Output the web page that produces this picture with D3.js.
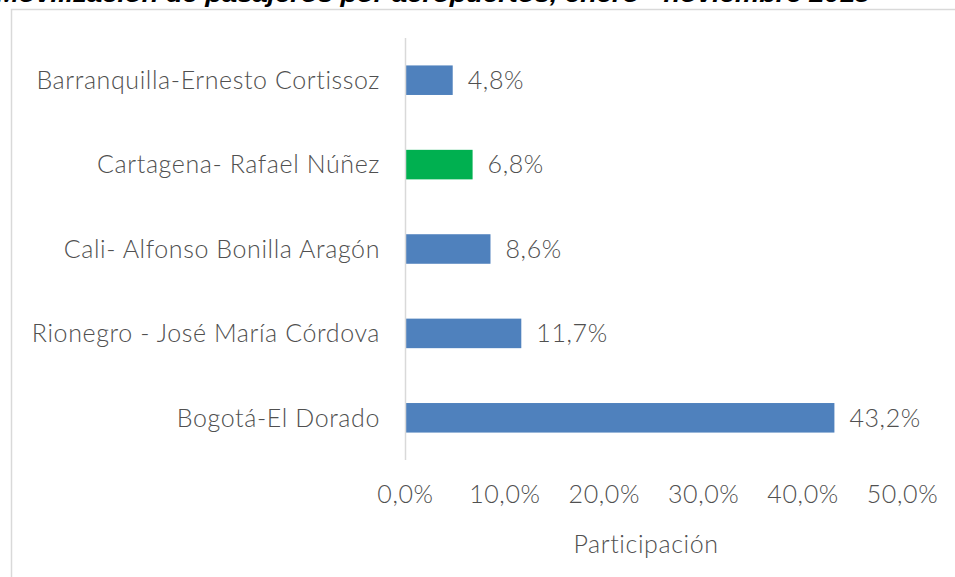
<!DOCTYPE html>
<html>
<head>
<meta charset="utf-8">
<script src="https://cdn.jsdelivr.net/npm/d3@7"></script>
<style>
  body { margin: 0; background: #fff; }
  #chart_div { width: 955px; height: 577px; overflow: hidden; }
</style>
</head>
<body>
<div id="chart_div"></div>
<script>
let title = "Movilización de pasajeros por aeropuertos, enero - noviembre 2015"
let airports = ["Barranquilla-Ernesto Cortissoz", "Cartagena- Rafael Núñez", "Cali- Alfonso Bonilla Aragón", "Rionegro - José María Córdova", "Bogotá-El Dorado"]
let shares = [4.8, 6.8, 8.6, 11.7, 43.2]
let highlight = "Cartagena- Rafael Núñez"
let x_ticks = [0, 10, 20, 30, 40, 50]
let x_title = "Participación"

let width = 955
let height = 577

window.onload = function () {
  draw()
}

function fmt(v) {
  return v.toFixed(1).replace(".", ",") + "%"
}

function draw() {
  let svg = d3.select("#chart_div")
    .append("svg")
    .attr("width", width)
    .attr("height", height)

  // chart box, runs off the right and bottom edge
  svg.append("rect")
    .attr("x", 11.5).attr("y", 9.5)
    .attr("width", 1000).attr("height", 700)
    .attr("fill", "white")
    .attr("stroke", "#D9D9D9")
    .attr("stroke-width", 1.5)

  // title, mostly cut off at the top
  svg.append("text")
    .attr("x", -4)
    .attr("y", 1.5)
    .attr("font-family", "Liberation Sans")
    .attr("font-weight", "bold")
    .attr("font-style", "italic")
    .attr("font-size", 24)
    .attr("textLength", 874)
    .attr("lengthAdjust", "spacingAndGlyphs")
    .attr("fill", "#000")
    .text(title)

  let x = d3.scaleLinear()
    .domain([0, 50])
    .range([405, 902])

  let y = d3.scaleBand()
    .domain(airports)
    .range([38, 460])
    .paddingInner(0.65)
    .paddingOuter(0.325)

  // bars
  svg.append("g")
    .selectAll("rect")
    .data(airports)
    .join("rect")
    .attr("x", x(0))
    .attr("y", d => y(d))
    .attr("width", (d, i) => x(shares[i]) - x(0))
    .attr("height", y.bandwidth())
    .attr("fill", d => d == highlight ? "#00B050" : "#4F81BD")

  // vertical axis line
  svg.append("line")
    .attr("x1", x(0) + 0.5).attr("x2", x(0) + 0.5)
    .attr("y1", 38).attr("y2", 460)
    .attr("stroke", "#D9D9D9")
    .attr("stroke-width", 1.5)

  let font = "Lato, 'Open Sans', sans-serif"
  let fsize = 25
  let spacing = 0.6
  let tcolor = "#505050"

  // category labels
  svg.append("g")
    .selectAll("text")
    .data(airports)
    .join("text")
    .attr("x", 380)
    .attr("y", d => y(d) + y.bandwidth() / 2)
    .attr("dy", "0.35em")
    .attr("text-anchor", "end")
    .attr("font-family", font)
    .attr("font-weight", 300)
    .attr("letter-spacing", spacing)
    .attr("font-size", fsize)
    .attr("fill", tcolor)
    .text(d => d)

  // value labels
  svg.append("g")
    .selectAll("text")
    .data(airports)
    .join("text")
    .attr("x", (d, i) => x(shares[i]) + 15)
    .attr("y", d => y(d) + y.bandwidth() / 2)
    .attr("dy", "0.35em")
    .attr("font-family", font)
    .attr("font-weight", 300)
    .attr("letter-spacing", spacing)
    .attr("font-size", fsize)
    .attr("fill", tcolor)
    .text((d, i) => fmt(shares[i]))

  // x axis, labels only
  let xaxis = svg.append("g")
    .attr("transform", "translate(0,460)")
    .call(d3.axisBottom(x).tickValues(x_ticks).tickFormat(fmt).tickSize(0))
  xaxis.select(".domain").remove()
  xaxis.selectAll("text")
    .attr("y", 43)
    .attr("dy", 0)
    .attr("font-family", font)
    .attr("font-weight", 300)
    .attr("letter-spacing", spacing)
    .attr("font-size", fsize)
    .attr("fill", tcolor)

  svg.append("text")
    .attr("x", 646)
    .attr("y", 553)
    .attr("text-anchor", "middle")
    .attr("font-family", font)
    .attr("font-weight", 300)
    .attr("letter-spacing", spacing)
    .attr("font-size", fsize)
    .attr("fill", tcolor)
    .text(x_title)
}
</script>
</body>
</html>
